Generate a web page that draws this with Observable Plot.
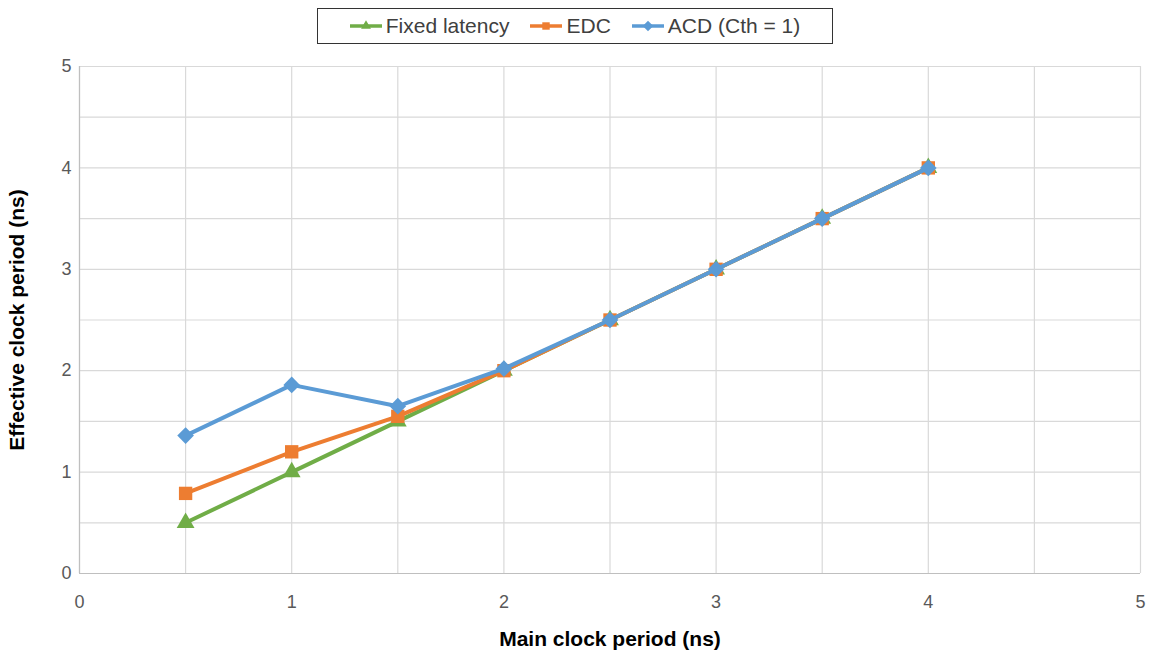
<!DOCTYPE html>
<html>
<head>
<meta charset="utf-8">
<script src="https://cdn.jsdelivr.net/npm/d3@7"></script>
<script src="https://cdn.jsdelivr.net/npm/@observablehq/plot@0.6"></script>
<style>
  body { margin: 0; background: #fff; font-family: "Liberation Sans", Arial, sans-serif; }
  #wrap { width: 1155px; }
  #legend { height: 50px; display: flex; justify-content: center; align-items: flex-start; }
  #legend .box { margin-top: 8px; margin-left: -6px; border: 1.5px solid #333; height: 36px; width: 516px; box-sizing: border-box; display: flex; align-items: center; justify-content: center; gap: 20px; font-size: 21px; color: #404040; }
  #legend .item { display: flex; align-items: center; gap: 3px; }
</style>
</head>
<body>
<div id="wrap">
  <div id="legend"><div class="box" id="lbox"></div></div>
  <div id="chart"></div>
</div>
<script>
const xValues = [0.5, 1, 1.5, 2, 2.5, 3, 3.5, 4];
const seriesNames = ["Fixed latency", "EDC", "ACD (Cth = 1)"];
const fixedLatency = [0.5, 1.0, 1.5, 2.0, 2.5, 3.0, 3.5, 4.0];
const edc = [0.79, 1.2, 1.55, 2.0, 2.5, 3.0, 3.5, 4.0];
const acd = [1.36, 1.86, 1.65, 2.02, 2.5, 3.0, 3.5, 4.0];
const colors = ["#70AD47", "#ED7D31", "#5B9BD5"];
const symbols = ["triangle2", "square2", "diamond2"];
const radii = [8.5, 8.5, 7.5];
const xTicks = [0, 1, 2, 3, 4, 5];
const yTicks = [0, 1, 2, 3, 4, 5];

const seriesValues = [fixedLatency, edc, acd];
const rows = [];
seriesNames.forEach((s, i) => xValues.forEach((x, j) => rows.push({series: s, x, y: seriesValues[i][j]})));

const marks = [
  Plot.gridX(d3.range(0, 5.01, 0.5), {stroke: "#d9d9d9", strokeOpacity: 1, strokeWidth: 1.2}),
  Plot.gridY(d3.range(0, 5.01, 0.5), {stroke: "#d9d9d9", strokeOpacity: 1, strokeWidth: 1.2}),
  Plot.ruleX([0], {stroke: "#bfbfbf", strokeWidth: 1.2}),
  Plot.ruleY([0], {stroke: "#bfbfbf", strokeWidth: 1.2}),
  Plot.axisX(xTicks, {tickSize: 0, tickPadding: 22, fontSize: 18, fill: "#595959", tickFormat: d3.format("d"), label: "Main clock period (ns)", labelAnchor: "center", labelOffset: 72, labelArrow: "none"}),
  Plot.axisY(yTicks, {tickSize: 0, tickPadding: 8, fontSize: 18, fill: "#595959", tickFormat: d3.format("d"), label: "Effective clock period (ns)", labelAnchor: "center", labelOffset: 70, labelArrow: "none"})
];
seriesNames.forEach((s, i) => {
  const d = rows.filter(r => r.series === s);
  marks.push(Plot.line(d, {x: "x", y: "y", stroke: colors[i], strokeWidth: 4}));
  marks.push(Plot.dot(d, {x: "x", y: "y", fill: colors[i], symbol: () => symbols[i], r: radii[i], stroke: "none"}));
});

const chart = Plot.plot({
  width: 1155,
  height: 607,
  marginLeft: 79,
  marginRight: 15,
  marginTop: 16,
  marginBottom: 84,
  x: {domain: [0, 5]},
  y: {domain: [0, 5]},
  style: {fontFamily: "Liberation Sans, Arial, sans-serif", fontSize: "18px"},
  marks
});
document.getElementById("chart").appendChild(chart);

d3.select(chart).selectAll("g[aria-label='x-axis label'] text, g[aria-label='y-axis label'] text")
  .style("font-weight", "bold").style("font-size", "21px").style("fill", "#000");

// legend
const lbox = d3.select("#lbox");
seriesNames.forEach((s, i) => {
  const item = lbox.append("div").attr("class", "item");
  const svg = item.append("svg").attr("width", 34).attr("height", 16);
  svg.append("line").attr("x1", 1).attr("x2", 33).attr("y1", 8).attr("y2", 8).attr("stroke", colors[i]).attr("stroke-width", 3.5);
  const sym = [d3.symbolTriangle2, d3.symbolSquare2, d3.symbolDiamond2][i];
  svg.append("path").attr("d", d3.symbol(sym, 70)).attr("transform", "translate(17,8)").attr("fill", colors[i]);
  item.append("span").text(s);
});
</script>
</body>
</html>
